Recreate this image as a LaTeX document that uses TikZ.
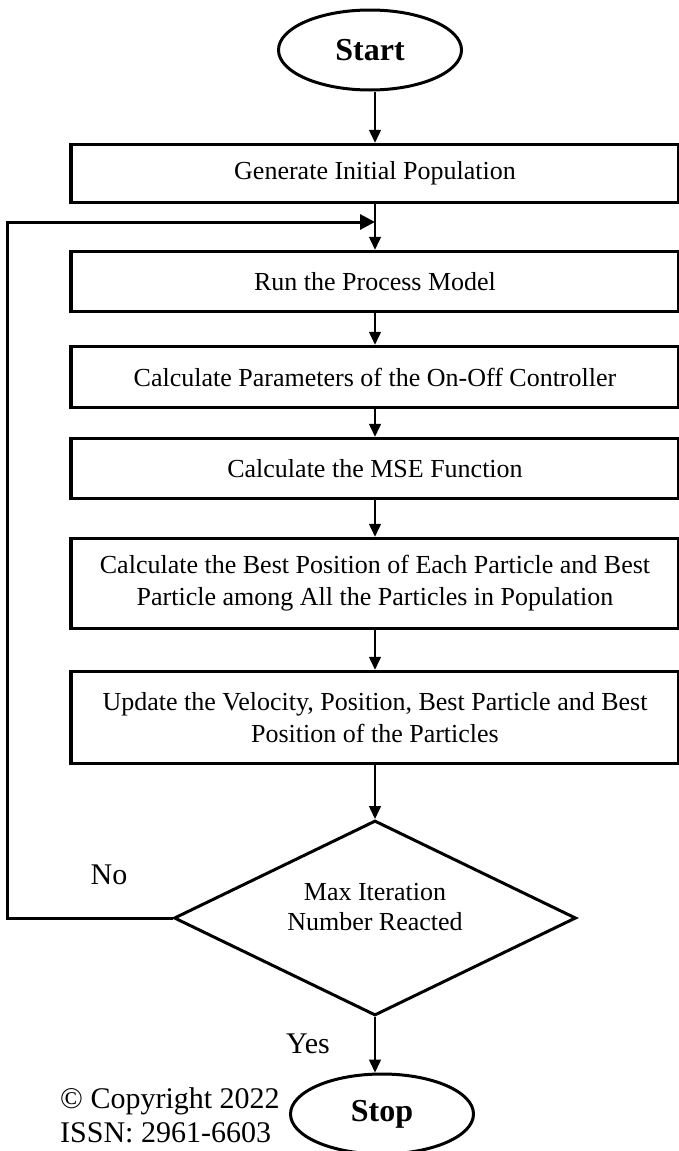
\documentclass[tikz,border=0pt]{standalone}
\usepackage{fontspec}
\setmainfont{Liberation Serif}
\usetikzlibrary{shapes.geometric,arrows.meta}
\begin{document}
\begin{tikzpicture}[x=1pt,y=-1pt,
        stepbox/.style={draw,line width=3.5pt,minimum width=608pt,inner sep=0pt,align=center,font=\fontsize{26}{32}\selectfont},
        term/.style={draw,ellipse,line width=3pt,minimum width=183pt,minimum height=80pt,inner sep=0pt,font=\fontsize{32}{36}\selectfont\bfseries},
        arr/.style={line width=1.5pt,-{Triangle[length=13pt,width=12pt]}},
        lbl/.style={inner sep=0pt,font=\fontsize{30}{34}\selectfont}]
    \useasboundingbox (0,0) rectangle (678,1151);
    % terminals and process steps
    \node[term] (start) at (370,50) {Start};
    \node[stepbox,minimum height=58pt] (gen) at (375,173.5) {Generate Initial Population};
    \node[stepbox,minimum height=60pt] (run) at (375,281.5) {Run the Process Model};
    \node[stepbox,minimum height=61pt] (calc) at (375,377) {Calculate Parameters of the On-Off Controller};
    \node[stepbox,minimum height=60pt] (mse) at (375,468.5) {Calculate the MSE Function};
    \node[stepbox,minimum height=90pt] (best) at (375,583.5) {Calculate the Best Position of Each Particle and Best\\Particle among All the Particles in Population};
    \node[stepbox,minimum height=92pt] (upd) at (375,717.5) {Update the Velocity, Position, Best Particle and Best\\Position of the Particles};
    \node[draw,diamond,line width=3pt,minimum width=402pt,minimum height=195pt,inner sep=0pt] (dec) at (375,918) {};
    \node[inner sep=0pt,align=center,anchor=base,font=\fontsize{26}{30}\selectfont] (dectext) at (375,930) {Max Iteration\\Number Reacted};
    \node[term] (stop) at (382,1114) {Stop};
    % connectors
    \coordinate (back) at (7,222);
    \coordinate (join) at (375,222);
    \draw[arr] (gen.north |- start.south) -- (gen.north);
    \draw[line width=1.5pt] (gen.south) -- (join);
    \draw[arr] (join) -- (run.north);
    \draw[arr] (run.south) -- (calc.north);
    \draw[arr] (calc.south) -- (mse.north);
    \draw[arr] (mse.south) -- (best.north);
    \draw[arr] (best.south) -- (upd.north);
    \draw[arr] (upd.south) -- (dec.north);
    \draw[arr] (dec.south) -- (dec.south |- stop.north);
    \draw[line width=3pt,-{Triangle[length=15pt,width=15pt]}] (dec.west) -| (back) -- (join);
    % labels
    \node[lbl] (no) at (109,875) {No};
    \node[lbl] (yes) at (308,1044) {Yes};
    \node[lbl,align=left,anchor=base west] (copy) at (60,1142) {© Copyright 2022\\ISSN: 2961-6603};
\end{tikzpicture}
\end{document}
